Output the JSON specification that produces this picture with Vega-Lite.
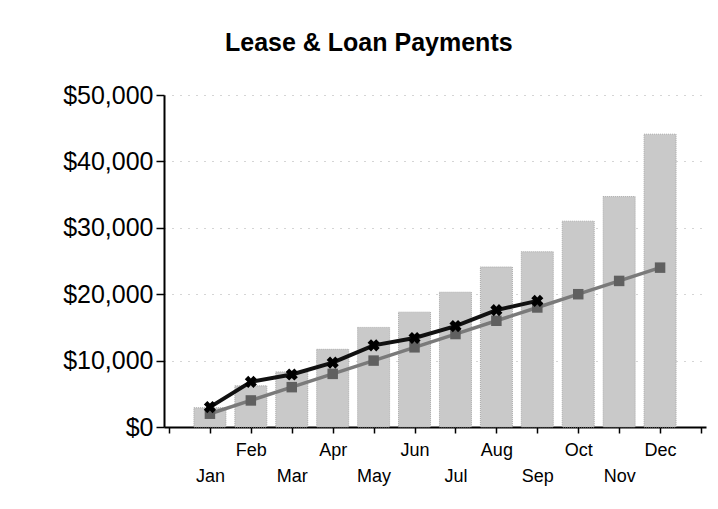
{
  "$schema": "https://vega.github.io/schema/vega-lite/v6.json",
  "width": 542,
  "height": 332,
  "autosize": {"type": "none"},
  "padding": {"left": 164, "top": 95, "right": 12, "bottom": 82},
  "background": "white",
  "config": {"view": {"stroke": null}, "font": "Liberation Sans"},
  "title": {
    "text": "Lease & Loan Payments",
    "anchor": "start",
    "frame": "group",
    "dx": 61,
    "offset": 7,
    "baseline": "alphabetic",
    "fontSize": 25,
    "fontWeight": "bold",
    "font": "Liberation Sans",
    "color": "black"
  },
  "data": {
    "values": [
      {"m": 1, "month": "Jan", "lease": 2900, "loan": 2000, "actual": 3000},
      {"m": 2, "month": "Feb", "lease": 6200, "loan": 4000, "actual": 6800},
      {"m": 3, "month": "Mar", "lease": 8300, "loan": 6000, "actual": 7900},
      {"m": 4, "month": "Apr", "lease": 11700, "loan": 8000, "actual": 9700},
      {"m": 5, "month": "May", "lease": 15000, "loan": 10000, "actual": 12300},
      {"m": 6, "month": "Jun", "lease": 17300, "loan": 12000, "actual": 13400},
      {"m": 7, "month": "Jul", "lease": 20300, "loan": 14000, "actual": 15200},
      {"m": 8, "month": "Aug", "lease": 24100, "loan": 16000, "actual": 17600},
      {"m": 9, "month": "Sep", "lease": 26400, "loan": 18000, "actual": 19000},
      {"m": 10, "month": "Oct", "lease": 31000, "loan": 20000, "actual": null},
      {"m": 11, "month": "Nov", "lease": 34700, "loan": 22000, "actual": null},
      {"m": 12, "month": "Dec", "lease": 44100, "loan": 24000, "actual": null}
    ]
  },
  "encoding": {
    "x": {
      "field": "m",
      "type": "quantitative",
      "scale": {"domain": [0, 13], "nice": false, "zero": false},
      "axis": {
        "title": null,
        "values": [0, 1, 2, 3, 4, 5, 6, 7, 8, 9, 10, 11, 12, 13],
        "labelExpr": "datum.value < 1 || datum.value > 12 ? '' : (datum.value % 2 == 1 ? ['', ['Jan','Feb','Mar','Apr','May','Jun','Jul','Aug','Sep','Oct','Nov','Dec'][datum.value - 1]] : ['Jan','Feb','Mar','Apr','May','Jun','Jul','Aug','Sep','Oct','Nov','Dec'][datum.value - 1])",
        "labelFont": "Liberation Sans",
        "labelFontSize": 18,
        "labelColor": "black",
        "labelPadding": 8,
        "labelLineHeight": 26,
        "labelOverlap": false,
        "labelFlush": false,
        "tickSize": 6,
        "tickColor": "black",
        "tickWidth": 1.5,
        "domainColor": "black",
        "domainWidth": 2,
        "grid": false
      }
    }
  },
  "layer": [
    {
      "mark": {"type": "bar", "size": 32, "color": "#c9c9c9", "stroke": "#a8a8a8", "strokeWidth": 1, "strokeDash": [1, 1]},
      "encoding": {
        "y": {
          "field": "lease",
          "type": "quantitative",
          "scale": {"domain": [0, 50000], "nice": false},
          "axis": {
            "title": null,
            "values": [0, 10000, 20000, 30000, 40000, 50000],
            "format": "$,.0f",
            "labelFont": "Liberation Sans",
            "labelFontSize": 25,
            "labelColor": "black",
            "labelPadding": 3,
            "tickSize": 8,
            "tickColor": "black",
            "tickWidth": 1.5,
            "domainColor": "black",
            "domainWidth": 2,
            "grid": true,
            "gridColor": "#aaaaaa",
            "gridDash": [1, 7],
            "gridWidth": 1
          }
        }
      }
    },
    {
      "mark": {
        "type": "line",
        "color": "#7a7a7a",
        "strokeWidth": 3.5,
        "point": {"shape": "square", "size": 110, "color": "#606060", "filled": true}
      },
      "encoding": {"y": {"field": "loan", "type": "quantitative"}}
    },
    {
      "mark": {"type": "line", "color": "#111111", "strokeWidth": 4},
      "encoding": {"y": {"field": "actual", "type": "quantitative"}}
    },
    {
      "mark": {"type": "point", "shape": "cross", "angle": 45, "size": 150, "color": "black", "filled": true, "opacity": 1},
      "encoding": {"y": {"field": "actual", "type": "quantitative"}}
    }
  ]
}
